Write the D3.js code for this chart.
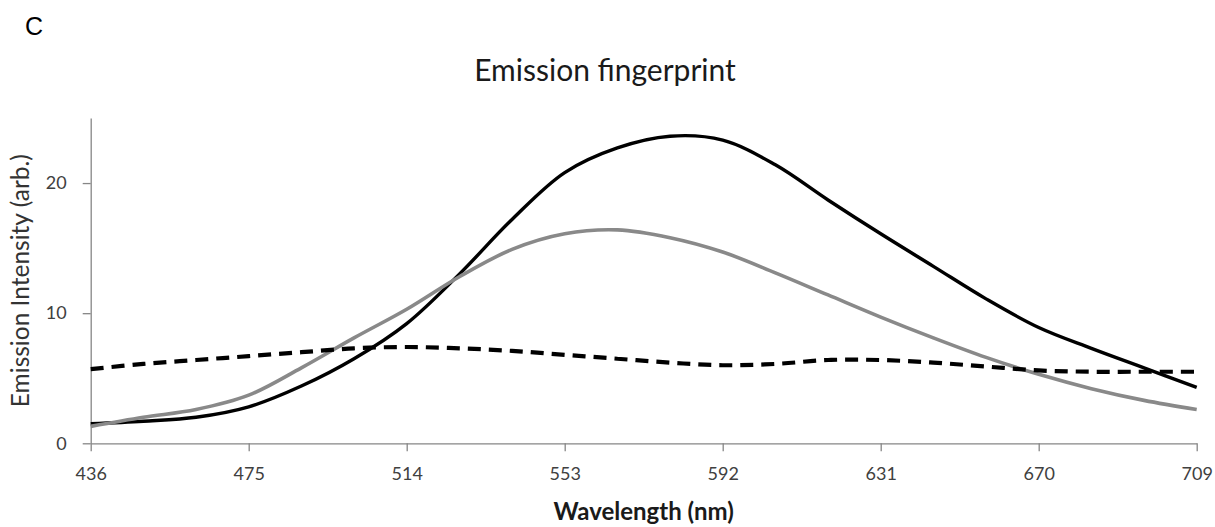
<!DOCTYPE html>
<html>
<head>
<meta charset="utf-8">
<script src="https://cdn.jsdelivr.net/npm/d3@7"></script>
<style>
  body { margin: 0; background: #fff; }
  svg { display: block; }
  .axis path, .axis line { stroke: #868686; stroke-width: 1.3; }
  .axis text { font-family: Lato, "Open Sans", sans-serif; font-size: 18px; fill: #404040; }
</style>
</head>
<body>
<div id="chart"></div>
<script>
// wavelengths (nm), one sample every 13 nm
const wavelengths = [436, 449, 462, 475, 488, 501, 514, 527, 540, 553, 566,
  579, 592, 605, 618, 631, 644, 657, 670, 683, 696, 709]
// black solid series
const blackSeries = [1.5, 1.7, 2.0, 2.8, 4.4, 6.5, 9.2, 13.0, 17.2, 20.8, 22.7,
  23.6, 23.3, 21.4, 18.7, 16.1, 13.6, 11.1, 8.9, 7.3, 5.8, 4.3]
// grey solid series
const greySeries = [1.3, 2.0, 2.6, 3.7, 5.8, 8.1, 10.3, 12.8, 14.9, 16.1, 16.4,
  15.8, 14.7, 13.1, 11.4, 9.7, 8.1, 6.6, 5.3, 4.2, 3.3, 2.6]
// black dashed series
const dashedSeries = [5.7, 6.1, 6.4, 6.7, 7.0, 7.3, 7.4, 7.3, 7.1, 6.8, 6.5,
  6.2, 6.0, 6.1, 6.4, 6.4, 6.2, 5.9, 5.6, 5.5, 5.5, 5.5]
const xTicks = [436, 475, 514, 553, 592, 631, 670, 709]
const yTicks = [0, 10, 20]

const width = 1215
const height = 527
const margin = {top: 118, right: 18.3, bottom: 83.7, left: 90.7}

const svg = d3.select("#chart")
  .append("svg")
  .attr("width", width)
  .attr("height", height)

const x = d3.scaleLinear()
  .domain([436, 709])
  .range([margin.left, width - margin.right])
const y = d3.scaleLinear()
  .domain([0, 25])
  .range([height - margin.bottom, margin.top])

// axes
svg.append("g")
  .attr("class", "axis")
  .attr("transform", `translate(0,${height - margin.bottom})`)
  .call(d3.axisBottom(x).tickValues(xTicks).tickFormat(d3.format("d"))
    .tickSize(8).tickSizeOuter(0).tickPadding(16))
svg.append("g")
  .attr("class", "axis")
  .attr("transform", `translate(${margin.left},0)`)
  .call(d3.axisLeft(y).tickValues(yTicks).tickFormat(d3.format("d"))
    .tickSize(8).tickSizeOuter(0).tickPadding(16))

// series
const series = [
  {name: "black", values: blackSeries, color: "#000", width: 3.4, dash: null},
  {name: "grey", values: greySeries, color: "#898989", width: 3.6, dash: null},
  {name: "dashed", values: dashedSeries, color: "#000", width: 4.2, dash: "13,8"},
]
const line = d3.line()
  .x((d, i) => x(wavelengths[i]))
  .y(d => y(d))
  .curve(d3.curveCatmullRom)

svg.append("g")
  .selectAll("path")
  .data(series)
  .enter()
  .append("path")
  .attr("d", d => line(d.values))
  .attr("fill", "none")
  .attr("stroke", d => d.color)
  .attr("stroke-width", d => d.width)
  .attr("stroke-dasharray", d => d.dash)
  .attr("stroke-linejoin", "round")

// titles
svg.append("text")
  .text("C")
  .attr("x", 25)
  .attr("y", 35)
  .style("font-family", "'Liberation Sans', Arial, sans-serif")
  .style("font-size", "25px")
  .style("fill", "#000")
svg.append("text")
  .text("Emission fingerprint")
  .attr("x", 605)
  .attr("y", 81)
  .attr("text-anchor", "middle")
  .style("font-family", "Lato, sans-serif")
  .style("font-size", "30px")
  .style("fill", "#1a1a1a")
svg.append("text")
  .text("Emission Intensity (arb.)")
  .attr("transform", `translate(29,${(margin.top + height - margin.bottom) / 2}) rotate(-90)`)
  .attr("text-anchor", "middle")
  .style("font-family", "Lato, sans-serif")
  .style("font-size", "24.5px")
  .style("fill", "#333")
svg.append("text")
  .text("Wavelength (nm)")
  .attr("x", (margin.left + width - margin.right) / 2)
  .attr("y", 520)
  .attr("text-anchor", "middle")
  .style("font-family", "Lato, sans-serif")
  .style("font-weight", "bold")
  .style("font-size", "24px")
  .style("fill", "#1a1a1a")
</script>
</body>
</html>
